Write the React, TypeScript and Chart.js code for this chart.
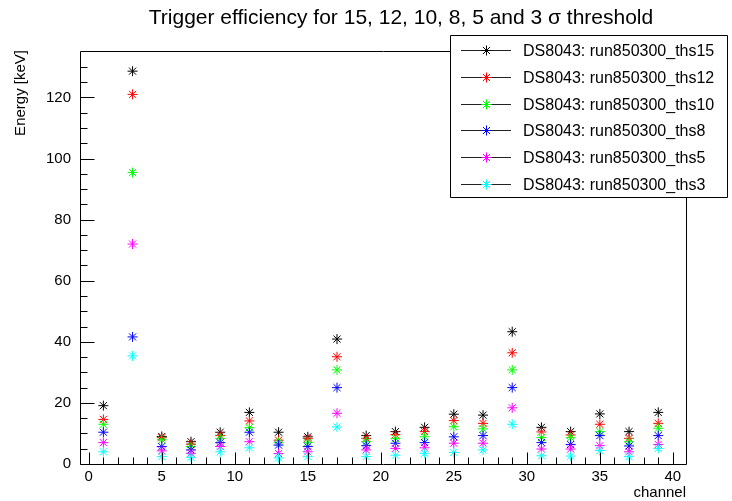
import React, { useEffect, useRef } from "react";
import { Chart, registerables } from "chart.js";

Chart.register(...registerables);

const channels = [1, 3, 5, 7, 9, 11, 13, 15, 17, 19, 21, 23, 25, 27, 29, 31, 33, 35, 37, 39];
const ths15 = [19.1, 128.6, 9.0, 7.3, 10.4, 16.9, 10.4, 8.9, 40.9, 9.3, 10.6, 12.0, 16.3, 16.0, 43.3, 12.0, 10.6, 16.4, 10.6, 16.9];
const ths12 = [14.6, 121.0, 8.6, 6.5, 9.3, 14.1, 7.8, 8.4, 35.1, 8.4, 9.6, 10.6, 14.2, 13.3, 36.4, 10.5, 9.5, 13.0, 8.4, 13.3];
const ths10 = [13.0, 95.4, 7.9, 5.7, 8.4, 11.9, 7.1, 7.1, 30.8, 7.3, 8.4, 8.9, 12.2, 11.5, 30.8, 8.7, 8.6, 10.6, 7.3, 11.7];
const ths8 = [10.4, 41.6, 5.7, 4.6, 7.0, 10.4, 6.2, 5.7, 25.0, 6.0, 6.8, 7.0, 8.9, 9.3, 25.0, 7.0, 6.4, 9.3, 5.9, 9.3];
const ths5 = [7.0, 72.0, 4.3, 3.5, 5.7, 7.3, 3.4, 4.0, 16.6, 4.6, 5.1, 5.3, 6.8, 6.8, 18.4, 4.9, 4.9, 6.0, 4.0, 6.4];
const ths3 = [4.0, 35.4, 2.4, 2.2, 4.0, 5.3, 2.0, 2.4, 12.1, 2.4, 2.9, 3.5, 3.8, 4.6, 13.0, 2.7, 2.6, 4.4, 2.4, 5.1];

const seriesLabels = [
  "DS8043: run850300_ths15",
  "DS8043: run850300_ths12",
  "DS8043: run850300_ths10",
  "DS8043: run850300_ths8",
  "DS8043: run850300_ths5",
  "DS8043: run850300_ths3",
];
const seriesValues = [ths15, ths12, ths10, ths8, ths5, ths3];
const seriesColors = ["#000000", "#ff0000", "#00ff00", "#0000ff", "#ff00ff", "#00ffff"];

const yMajorTicks = [0, 20, 40, 60, 80, 100, 120];
const xMajorTicks = [0, 5, 10, 15, 20, 25, 30, 35, 40];
const titleText = "Trigger efficiency for 15, 12, 10, 8, 5 and 3 \u03c3 threshold";
const xTitle = "channel";
const yTitle = "Energy [keV]";

const FONT = "'Liberation Sans', Arial, Helvetica, sans-serif";

const drawStar = (ctx: CanvasRenderingContext2D, cx: number, cy: number, r: number, color: string) => {
  ctx.save();
  ctx.strokeStyle = color;
  ctx.lineWidth = 1;
  ctx.beginPath();
  ctx.moveTo(cx - r, cy); ctx.lineTo(cx + r, cy);
  ctx.moveTo(cx, cy - r); ctx.lineTo(cx, cy + r);
  const d = r * 0.7071;
  ctx.moveTo(cx - d, cy - d); ctx.lineTo(cx + d, cy + d);
  ctx.moveTo(cx - d, cy + d); ctx.lineTo(cx + d, cy - d);
  ctx.stroke();
  ctx.restore();
};

const rootPlugin = {
  id: "rootDecor",
  afterDatasetsDraw(chart: any) {
    const { ctx, chartArea: a, scales } = chart;
    const x = scales.x;
    const y = scales.y;
    ctx.save();
    ctx.strokeStyle = "#000";
    ctx.lineWidth = 1;
    const L = Math.round(a.left) + 0.5;
    const R = Math.round(a.right) + 0.5;
    const T = Math.round(a.top) + 0.5;
    const B = Math.round(a.bottom) + 0.5;
    ctx.beginPath();
    ctx.rect(L, T, R - L, B - T);
    ctx.stroke();

    // y ticks (major every 20, minor every 5)
    ctx.beginPath();
    for (let v = 0; v <= y.max + 1e-9; v += 5) {
      const py = Math.round(y.getPixelForValue(v)) + 0.5;
      if (py < T + 3) continue;
      const len = yMajorTicks.includes(v) ? 14 : 7;
      ctx.moveTo(L, py);
      ctx.lineTo(L + len, py);
    }
    // x ticks (major every 5, minor every 1)
    for (let v = 0; v <= x.max + 1e-9; v += 1) {
      const px = Math.round(x.getPixelForValue(v)) + 0.5;
      const len = xMajorTicks.includes(v) ? 12 : 7;
      ctx.moveTo(px, B);
      ctx.lineTo(px, B - len);
    }
    ctx.stroke();

    // tick labels
    ctx.fillStyle = "#000";
    ctx.font = `15px ${FONT}`;
    ctx.textAlign = "right";
    ctx.textBaseline = "middle";
    yMajorTicks.forEach((v) => {
      ctx.fillText(String(v), a.left - 9, y.getPixelForValue(v));
    });
    ctx.textAlign = "center";
    xMajorTicks.forEach((v) => {
      ctx.fillText(String(v), x.getPixelForValue(v), a.bottom + 13);
    });

    // axis titles
    ctx.font = `15px ${FONT}`;
    ctx.textAlign = "right";
    ctx.textBaseline = "alphabetic";
    ctx.fillText(xTitle, a.right, 497);
    ctx.save();
    ctx.translate(25, a.top - 1);
    ctx.rotate(-Math.PI / 2);
    ctx.textAlign = "right";
    ctx.fillText(yTitle, 0, 0);
    ctx.restore();

    // title
    ctx.font = `21px ${FONT}`;
    ctx.textAlign = "center";
    ctx.textBaseline = "alphabetic";
    ctx.fillText(titleText, 401, 24);

    // legend
    const lx = 450, ly = 35, lw = 277, lh = 162;
    ctx.fillStyle = "#fff";
    ctx.fillRect(lx, ly, lw, lh);
    ctx.strokeStyle = "#000";
    ctx.beginPath();
    ctx.rect(lx + 0.5, ly + 0.5, lw, lh);
    ctx.stroke();
    ctx.font = `16px ${FONT}`;
    ctx.textAlign = "left";
    ctx.textBaseline = "middle";
    chart.data.datasets.forEach((ds: any, i: number) => {
      const cy = Math.round(50 + i * 26.8) + 0.5;
      ctx.strokeStyle = "#222";
      ctx.lineWidth = 1;
      ctx.beginPath();
      ctx.moveTo(461, cy);
      ctx.lineTo(511, cy);
      ctx.stroke();
      drawStar(ctx, 486.5, cy, 5, ds.borderColor);
      ctx.fillStyle = "#000";
      ctx.fillText(ds.label, 523, cy + 1);
    });
    ctx.restore();
  },
};

export default function App() {
  const ref = useRef<HTMLCanvasElement | null>(null);
  useEffect(() => {
    document.body.style.margin = "0";
    const canvas = ref.current;
    if (!canvas) return;
    const datasets = seriesLabels.map((label, i) => ({
      label,
      data: channels.map((c, k) => ({ x: c, y: seriesValues[i][k] })),
      borderColor: seriesColors[i],
      backgroundColor: seriesColors[i],
      pointStyle: "star" as const,
      pointRadius: 5,
      pointHoverRadius: 5,
      pointBorderWidth: 1,
      showLine: false,
      order: 5 - i,
    }));
    const chart = new Chart(canvas, {
      type: "scatter",
      data: { datasets },
      options: {
        animation: false,
        responsive: false,
        devicePixelRatio: 1,
        events: [],
        layout: { padding: { top: 51, right: 46, left: 0, bottom: 0 } },
        plugins: { legend: { display: false }, title: { display: false }, tooltip: { enabled: false } },
        scales: {
          x: {
            type: "linear",
            min: -0.6,
            max: 40.9,
            grid: { display: false },
            border: { display: false },
            ticks: { display: false },
            afterFit: (s: any) => { s.height = 37; },
          },
          y: {
            type: "linear",
            min: 0,
            max: 135.2,
            grid: { display: false },
            border: { display: false },
            ticks: { display: false },
            afterFit: (s: any) => { s.width = 80; },
          },
        },
      },
      plugins: [rootPlugin],
    });
    return () => chart.destroy();
  }, []);
  return <canvas ref={ref} width={732} height={501} style={{ display: "block" }} />;
}
